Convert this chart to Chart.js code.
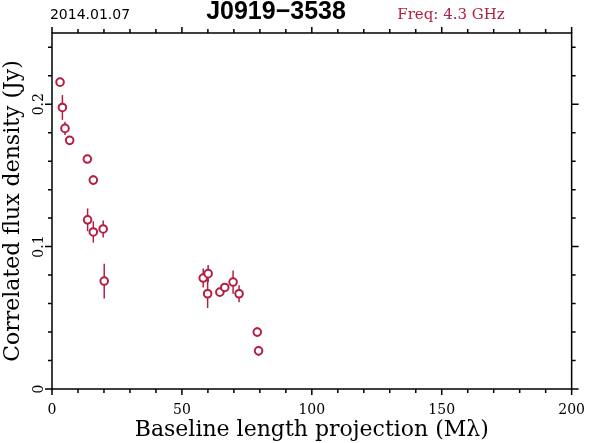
<!DOCTYPE html>
<html lang="en">

<head>
    <meta charset="UTF-8">
    <title>J0919-3538</title>
    <script src="https://cdn.jsdelivr.net/npm/chart.js"></script>
    <style>
        html, body { margin: 0; padding: 0; background: #fff; }
        #wrap { width: 590px; height: 443px; }
    </style>
</head>

<body>
    <div id="wrap"><canvas id="fluxChart" width="590" height="443"></canvas></div>
    <script>
        // Datos
        const baselines = [3.1, 4.0, 5.0, 6.8, 13.6, 15.9, 13.7, 15.9, 19.7, 20.1, 58.2, 60.1, 59.9, 64.6, 66.5, 69.7, 72.0, 79.0, 79.5];
        const fluxes = [0.2155, 0.1977, 0.183, 0.1746, 0.1615, 0.1467, 0.1188, 0.1103, 0.1124, 0.0758, 0.0779, 0.081, 0.0669, 0.068, 0.0713, 0.0751, 0.0669, 0.040, 0.0268];
        const fluxErrors = [0.002, 0.0087, 0.0046, 0.0025, 0.0025, 0.0035, 0.008, 0.0075, 0.006, 0.0122, 0.0067, 0.006, 0.010, 0.002, 0.002, 0.0082, 0.006, 0.0035, 0.0035];
        const xTicks = [0, 50, 100, 150, 200];
        const yTicks = [0, 0.1, 0.2];

        const obsDate = '2014.01.07';
        const sourceName = 'J0919\u22123538';
        const freqLabel = 'Freq: 4.3 GHz';
        const red = '#b31f42';

        // Barras de error, marco y marcas de los ejes
        const framePlugin = {
            id: 'framePlugin',
            beforeDatasetsDraw(chart) {
                const ctx = chart.ctx;
                const x = chart.scales.x, y = chart.scales.y;
                ctx.save();
                ctx.strokeStyle = red;
                ctx.lineWidth = 1.5;
                baselines.forEach((b, i) => {
                    const px = x.getPixelForValue(b);
                    ctx.beginPath();
                    ctx.moveTo(px, y.getPixelForValue(fluxes[i] - fluxErrors[i]));
                    ctx.lineTo(px, y.getPixelForValue(fluxes[i] + fluxErrors[i]));
                    ctx.stroke();
                });
                ctx.restore();
            },
            afterDraw(chart) {
                const ctx = chart.ctx;
                const a = chart.chartArea;
                const x = chart.scales.x, y = chart.scales.y;
                ctx.save();
                ctx.strokeStyle = '#000';
                ctx.lineWidth = 1.5;
                ctx.strokeRect(a.left, a.top, a.right - a.left, a.bottom - a.top);
                ctx.beginPath();
                for (let v = 0; v <= 200; v += 10) {
                    const px = x.getPixelForValue(v);
                    const len = v % 50 === 0 ? 6 : 4;
                    ctx.moveTo(px, a.bottom); ctx.lineTo(px, a.bottom + len);
                    ctx.moveTo(px, a.top); ctx.lineTo(px, a.top - len);
                }
                for (let k = 0; k <= 12; k++) {
                    const py = y.getPixelForValue(k * 0.02);
                    const len = k % 5 === 0 ? 7 : 4;
                    ctx.moveTo(a.left, py); ctx.lineTo(a.left - len, py);
                    ctx.moveTo(a.right, py); ctx.lineTo(a.right + len, py);
                }
                ctx.stroke();

                // Cabecera
                ctx.textBaseline = 'alphabetic';
                ctx.textAlign = 'center';
                ctx.fillStyle = '#000';
                ctx.font = '14px "DejaVu Sans"';
                ctx.fillText(obsDate, 90, 19);
                ctx.font = 'bold 25px "Liberation Sans"';
                ctx.fillText(sourceName, 276, 19);
                ctx.fillStyle = red;
                ctx.font = '15px "DejaVu Serif"';
                ctx.fillText(freqLabel, 451, 19);
                ctx.restore();
            }
        };

        new Chart(document.getElementById('fluxChart'), {
            type: 'scatter',
            data: {
                datasets: [{
                    data: baselines.map((b, i) => ({ x: b, y: fluxes[i] })),
                    pointStyle: 'circle',
                    pointRadius: 3.8,
                    pointBorderWidth: 2,
                    pointBorderColor: red,
                    pointBackgroundColor: '#fff'
                }]
            },
            options: {
                responsive: false,
                animation: false,
                layout: { padding: { top: 33, right: 18, left: 0, bottom: 0 } },
                plugins: {
                    legend: { display: false },
                    tooltip: { enabled: false }
                },
                scales: {
                    x: {
                        type: 'linear',
                        min: 0,
                        max: 200,
                        afterFit: s => { s.height = 54; },
                        afterBuildTicks: s => { s.ticks = xTicks.map(v => ({ value: v })); },
                        grid: { display: false },
                        border: { display: false },
                        ticks: {
                            padding: 5,
                            color: '#000',
                            font: { family: 'DejaVu Serif', size: 14 }
                        },
                        title: {
                            display: true,
                            text: 'Baseline length projection (M\u03bb)',
                            color: '#000',
                            font: { family: 'DejaVu Serif', size: 22 },
                            padding: { top: 0, bottom: 0 }
                        }
                    },
                    y: {
                        type: 'linear',
                        min: 0,
                        max: 0.25,
                        afterFit: s => { s.width = 52; },
                        afterBuildTicks: s => { s.ticks = yTicks.map(v => ({ value: v })); },
                        grid: { display: false },
                        border: { display: false },
                        ticks: {
                            padding: -6,
                            minRotation: 90,
                            maxRotation: 90,
                            crossAlign: 'center',
                            color: '#000',
                            font: { family: 'DejaVu Serif', size: 14 }
                        },
                        title: {
                            display: true,
                            text: 'Correlated flux density (Jy)',
                            color: '#000',
                            font: { family: 'DejaVu Serif', size: 22 },
                            padding: 0
                        }
                    }
                }
            },
            plugins: [framePlugin]
        });
    </script>
</body>

</html>
